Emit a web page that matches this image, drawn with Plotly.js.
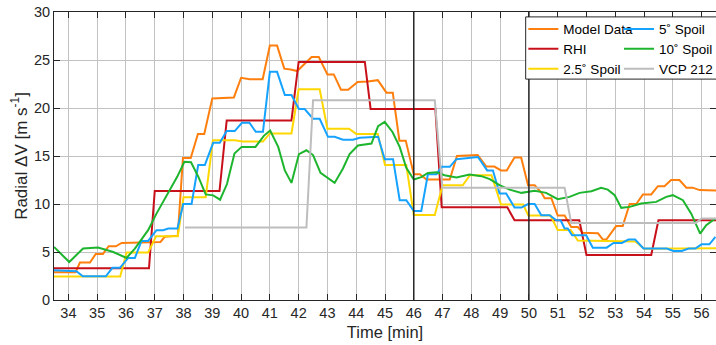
<!DOCTYPE html>
<html>
<head>
<meta charset="utf-8">
<script src="https://cdn.plot.ly/plotly-3.0.1.min.js"></script>
<style>html,body{margin:0;padding:0;background:#fff;}#chart{width:716px;height:345px;}</style>
</head>
<body>
<div id="chart"></div>
<script>
// ---- Data (time in minutes, radial ΔV in m/s) ----
const modelT = [33.5,34.25,34.4,34.75,34.95,35.2,35.4,35.65,35.85,37.2,37.35,37.8,37.98,38.25,38.5,38.72,39.0,39.75,40.0,40.3,40.75,41.0,41.25,41.5,41.72,41.95,42.45,42.7,43.0,43.22,43.47,43.72,44.05,44.4,44.75,45.05,45.27,45.5,45.72,46.0,46.21,46.44,47.25,47.5,48.22,48.52,48.8,49.03,49.23,49.5,49.73,49.97,50.2,50.43,50.55,50.78,51.0,51.24,51.47,51.7,51.87,52.4,52.57,52.69,53.03,53.26,53.5,53.73,53.96,54.25,54.48,54.71,54.94,55.23,55.47,55.69,55.93,56.5];
const modelV = [2.9,2.9,3.9,3.9,4.8,4.8,5.6,5.6,5.95,6.05,6.6,6.7,14.8,14.8,17.3,17.3,21.0,21.1,23.15,23.0,23.0,26.5,26.5,24.1,24.0,23.85,25.3,25.3,23.5,23.5,21.9,21.9,22.7,22.75,22.9,21.6,21.6,16.6,16.6,13.1,13.1,12.55,12.55,15.0,15.1,13.9,13.9,13.5,13.5,14.85,14.85,11.95,11.95,11.2,10.6,10.6,8.8,8.8,7.6,7.6,7.0,6.95,6.3,6.3,7.7,7.7,10.0,10.0,11.0,11.0,11.85,11.85,12.5,12.5,11.7,11.7,11.45,11.4];

const rhiT = [33.5,36.8,37.0,39.25,39.5,41.75,42.0,44.3,44.5,46.75,46.97,49.25,49.5,51.75,52.0,54.25,54.5,56.5];
const rhiV = [3.3,3.3,11.35,11.35,18.7,18.7,24.8,24.8,19.9,19.9,9.65,9.65,8.3,8.3,4.7,4.7,8.3,8.3];

const spoil25T = [33.5,35.8,36.02,36.77,37.05,37.8,38.0,38.77,39.02,39.78,40.05,40.76,41.0,41.75,42.0,42.73,43.0,43.75,44.0,44.75,45.0,45.74,46.0,46.73,47.0,47.7,47.95,48.7,49.03,49.8,49.98,50.75,51.0,51.45,51.7,53.7,54.0,56.5];
const spoil25V = [2.45,2.45,4.95,4.95,6.65,6.65,10.7,10.7,16.65,16.65,16.5,16.5,17.35,17.35,21.95,21.95,17.85,17.85,17.3,17.3,14.05,14.05,8.85,8.85,11.95,11.95,13.0,13.0,9.95,9.95,8.8,8.8,7.3,7.3,6.2,6.1,5.35,5.4];

const spoil5T = [33.5,34.28,34.5,35.3,35.53,35.79,36.08,36.31,36.54,36.77,37.06,37.29,37.47,37.79,37.99,38.28,38.51,38.74,39.03,39.26,39.5,39.78,40.03,40.29,40.51,40.76,41.0,41.25,41.52,41.75,42.01,42.21,42.5,42.73,43.02,43.25,43.54,43.89,44.12,44.76,44.99,45.28,45.51,45.74,46.0,46.26,46.49,46.79,46.96,47.25,47.48,48.23,48.55,48.75,48.98,49.21,49.5,49.74,49.97,50.2,50.43,50.72,50.95,51.1,51.24,51.35,51.5,51.99,52.22,52.7,52.94,53.23,53.46,53.69,53.98,54.79,55.02,55.31,55.55,55.78,56.0,56.27,56.48];
const spoil5V = [3.1,3.0,2.47,2.47,3.35,3.35,4.38,4.38,6.15,6.15,7.27,7.27,7.45,7.45,10.0,10.0,14.05,14.05,16.37,16.37,17.6,17.6,18.46,18.46,17.52,17.52,23.77,23.77,21.35,21.35,19.89,19.89,18.88,18.88,17.0,17.0,16.7,16.7,16.9,17.0,14.67,14.67,10.4,10.4,9.28,9.28,13.1,13.1,13.87,13.87,14.67,14.9,13.5,13.5,11.1,11.1,9.63,9.63,10.0,10.0,8.83,8.83,8.3,8.3,7.45,7.45,6.75,6.75,5.45,5.45,5.95,5.95,6.3,6.3,5.36,5.36,5.1,5.1,5.36,5.36,5.8,5.8,6.57];

const spoil10T = [33.5,34.03,34.51,35.03,35.56,36.02,36.31,36.77,37.06,37.32,37.78,38.03,38.26,38.52,38.77,39.03,39.27,39.51,39.77,40.02,40.5,40.79,41.01,41.29,41.52,41.75,42.01,42.27,42.5,42.76,43.02,43.25,43.54,43.77,44.06,44.3,44.53,44.76,44.99,45.26,45.51,45.74,46.0,46.26,46.49,46.79,47.07,47.48,47.94,48.35,48.64,48.98,49.33,49.74,50.2,50.6,51.0,51.41,51.76,52.17,52.51,52.74,52.98,53.21,53.5,53.9,54.42,54.77,55.0,55.35,55.64,55.95,56.16,56.48];
const spoil10V = [5.53,3.96,5.36,5.46,5.0,4.38,5.36,7.27,9.0,10.4,12.83,14.4,14.35,12.8,11.0,10.9,10.45,12.08,15.27,15.95,15.95,17.1,17.65,15.95,13.5,12.2,15.2,15.6,15.1,13.24,12.7,12.2,13.7,15.2,16.1,16.24,16.3,18.1,18.55,17.5,15.95,13.77,12.55,12.8,13.24,13.3,13.0,12.76,13.07,12.9,12.6,11.96,11.5,11.16,11.37,11.16,10.5,10.74,11.16,11.33,11.68,11.5,10.92,9.6,9.7,10.05,10.22,10.74,10.92,10.4,9.0,6.92,7.8,8.5];

const vcpT = [38.05,42.27,42.5,46.73,46.99,51.24,51.47,55.8,56.0,56.5];
const vcpV = [7.55,7.55,20.8,20.8,11.68,11.68,8.03,8.03,8.49,8.49];

const markerTimes = [46, 50];

const seriesNames = ['Model Data', 'RHI', '2.5˚ Spoil', '5˚ Spoil', '10˚ Spoil', 'VCP 212'];
const seriesColors = ['#FF7F0E', '#C8101A', '#FFD700', '#16A2FF', '#1EB52E', '#BDBDBD'];

const xTicks = [34,35,36,37,38,39,40,41,42,43,44,45,46,47,48,49,50,51,52,53,54,55,56];
const yTicks = [0,5,10,15,20,25,30];

// ---- Traces ----
const seriesT = [modelT, rhiT, spoil25T, spoil5T, spoil10T, vcpT];
const seriesV = [modelV, rhiV, spoil25V, spoil5V, spoil10V, vcpV];
const legendIds = ['legend', 'legend2', 'legend3', 'legend4', 'legend5', 'legend6'];
const traces = seriesNames.map((n, i) => ({
  x: seriesT[i], y: seriesV[i], name: n, type: 'scatter', mode: 'lines',
  line: {color: seriesColors[i], width: 2},
  legend: legendIds[i]
}));

const font = 'Liberation Sans, Arial, Helvetica, sans-serif';
const axisColor = '#262626';
const gridColor = '#C2C2C2';

const shapes = markerTimes.map(t => ({
  type: 'line', xref: 'x', yref: 'paper', x0: t, x1: t, y0: 0, y1: 1,
  line: {color: axisColor, width: 1.5}, layer: 'above'
}));
shapes.push({
  type: 'rect', xref: 'paper', yref: 'paper', x0: 0.7125, x1: 1.05, y0: 0.767, y1: 0.983,
  line: {color: axisColor, width: 1}, fillcolor: '#FFFFFF', layer: 'above'
});

// legend placement (2 columns x 3 rows, column-major like the reference)
const legendX = [0.709, 0.709, 0.709, 0.8535, 0.8535, 0.8535];
const legendY = [0.940, 0.8715, 0.802, 0.940, 0.8715, 0.802];

const layout = {
  width: 716, height: 345,
  margin: {l: 54, r: 0, t: 12, b: 45, autoexpand: false},
  paper_bgcolor: '#FFFFFF', plot_bgcolor: '#FFFFFF',
  font: {family: font, size: 14.5, color: axisColor},
  showlegend: true,
  xaxis: {
    range: [33.5, 56.5], tickvals: xTicks, ticktext: xTicks.map(String),
    showgrid: true, gridcolor: gridColor, gridwidth: 1,
    zeroline: false, showline: true, linecolor: axisColor, linewidth: 1, mirror: 'ticks',
    ticks: 'inside', ticklen: 6, tickcolor: axisColor, tickwidth: 1,
    tickfont: {family: font, size: 14.5, color: axisColor},
    title: {text: 'Time [min]', font: {family: font, size: 16.5, color: axisColor}, standoff: 6},
    automargin: false
  },
  yaxis: {
    range: [0, 30], tickvals: yTicks, ticktext: yTicks.map(String),
    showgrid: true, gridcolor: gridColor, gridwidth: 1,
    zeroline: false, showline: true, linecolor: axisColor, linewidth: 1, mirror: 'ticks',
    ticks: 'inside', ticklen: 6, tickcolor: axisColor, tickwidth: 1,
    tickfont: {family: font, size: 14.5, color: axisColor},
    title: {text: 'Radial ΔV [m s<sup>-1</sup>]', font: {family: font, size: 17, color: axisColor}, standoff: 2},
    automargin: false
  },
  shapes: shapes
};
legendIds.forEach((id, i) => {
  layout[id] = {
    x: legendX[i], xanchor: 'left', y: legendY[i], yanchor: 'middle', orientation: 'v',
    bgcolor: 'rgba(0,0,0,0)', borderwidth: 0,
    font: {family: font, size: 13.5, color: '#000000'}
  };
});

Plotly.newPlot('chart', traces, layout, {displayModeBar: false, staticPlot: true});
</script>
</body>
</html>
